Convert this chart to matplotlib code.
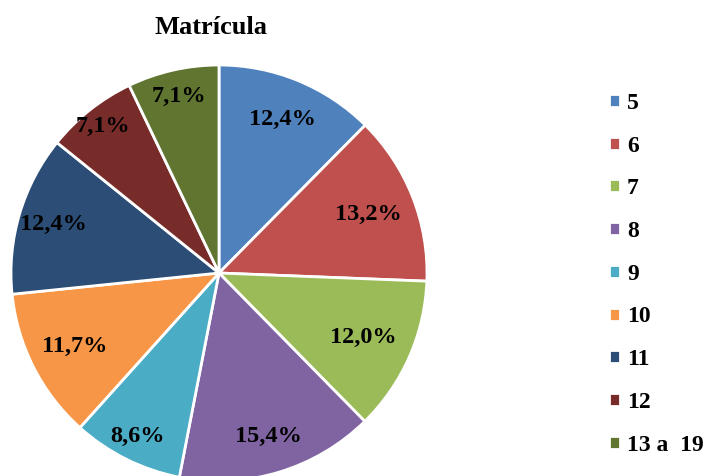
import matplotlib.pyplot as plt
import numpy as np

# datos
categorias = ['5', '6', '7', '8', '9', '10', '11', '12', '13 a  19']
valores = [12.4, 13.2, 12.0, 15.4, 8.6, 11.7, 12.4, 7.1, 7.1]
colores = ['#4F81BD', '#C0504D', '#9BBB59', '#8064A2', '#4BACC6',
           '#F79646', '#2C4D75', '#772C2A', '#5F7530']

# distancia relativa de cada etiqueta al centro (como la pone Excel)
dist_etiqueta = [0.80, 0.77, 0.76, 0.82, 0.88, 0.78, 0.83, 0.90, 0.87]

plt.rcParams['font.family'] = ['Liberation Serif', 'DejaVu Serif']

fig = plt.figure(figsize=(7.08, 4.76), dpi=100)
ax = fig.add_axes([0, 0, 1, 1])

centro = (219, 476 - 273)
radio = 208

wedges, _ = ax.pie(valores, colors=colores, startangle=90, counterclock=False,
                   center=centro, radius=radio, frame=True,
                   wedgeprops=dict(edgecolor='white', linewidth=2))
ax.set_xlim(0, 708)
ax.set_ylim(0, 476)
ax.axis('off')

for w, v, d in zip(wedges, valores, dist_etiqueta):
    ang = np.deg2rad((w.theta1 + w.theta2) / 2)
    x = centro[0] + d * radio * np.cos(ang)
    y = centro[1] + d * radio * np.sin(ang)
    ax.text(x, y, f'{v:.1f}%'.replace('.', ','), ha='center', va='center',
            fontsize=17.5, fontweight='bold', color='black')

fig.text(211 / 708, 1 - 28 / 476, 'Matrícula', ha='center', va='center',
         fontsize=19, fontweight='bold')

fig.legend(wedges, categorias, loc='upper left', bbox_to_anchor=(597 / 708, 1 - 81 / 476),
           frameon=False, prop={'size': 17, 'weight': 'bold'},
           handlelength=0.47, handleheight=0.47, handletextpad=0.3,
           labelspacing=0.92, borderpad=0)

fig.savefig('out.png', dpi=100)
